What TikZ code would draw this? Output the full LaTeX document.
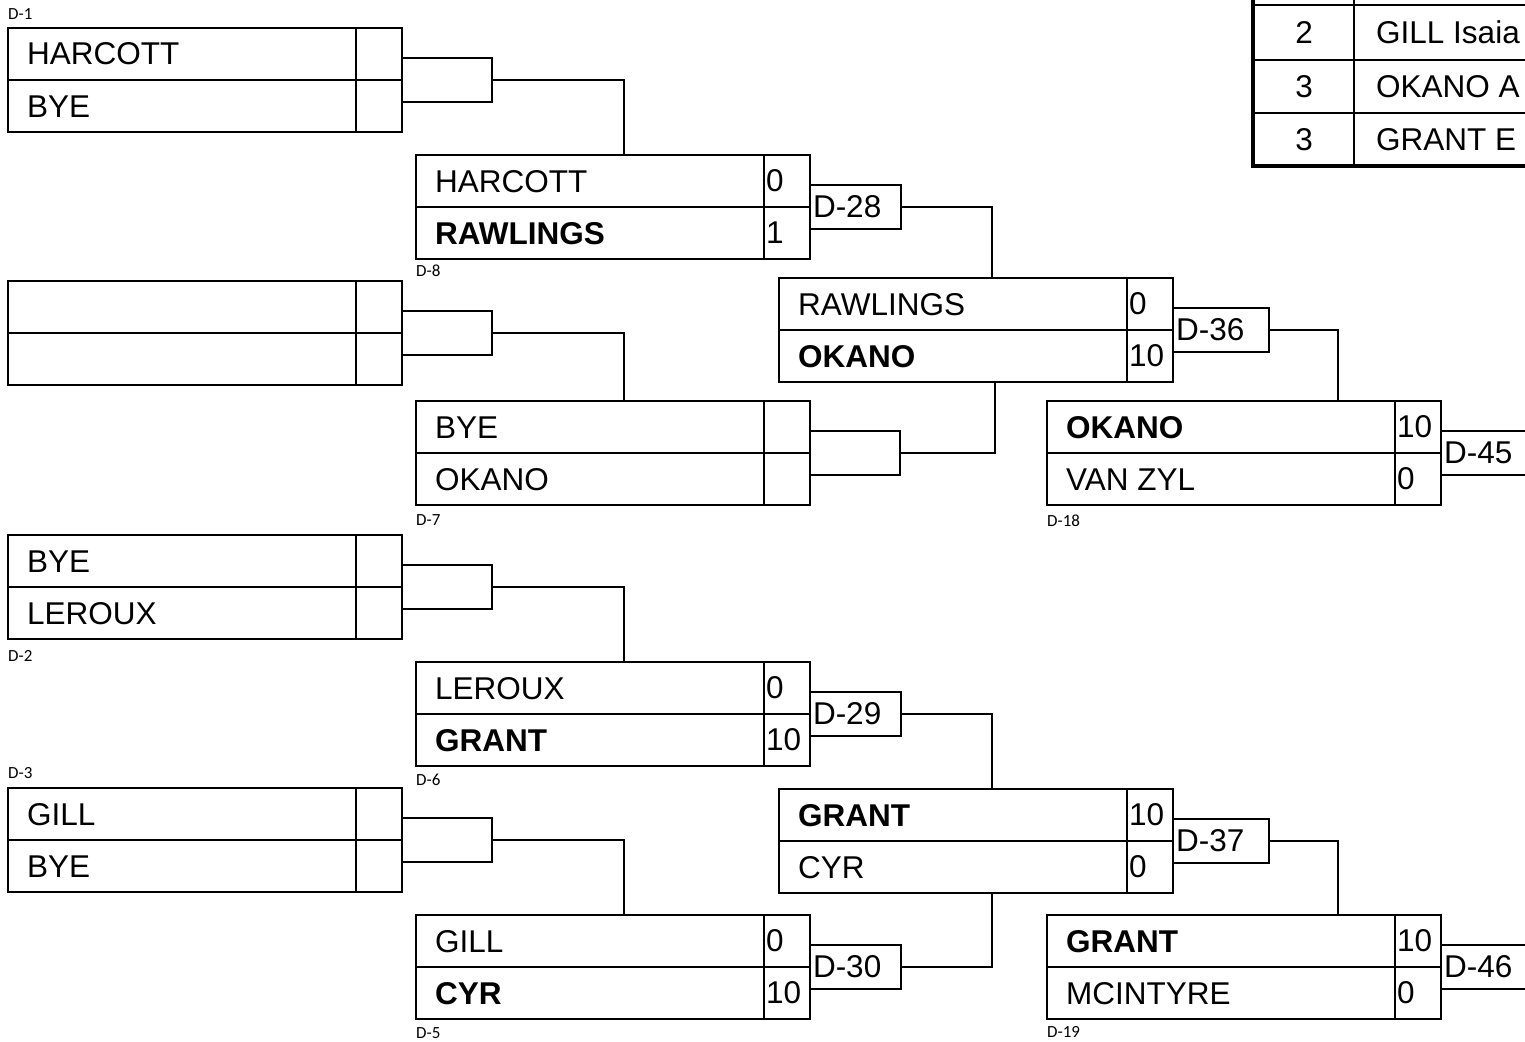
\documentclass[tikz,border=0pt]{standalone}
\usepackage{fontspec}
\setmainfont{Liberation Sans}
\newfontfamily\labfont{Carlito}
\newcommand\bknamefont{\fontsize{31.5}{38}\selectfont}
\newcommand\tmatch[3]{%
  \node[matchbox] (#1) at (#2,#3) {};
  \draw[conn] (#1.west) -- (#1.east);
  \draw[conn] ([xshift=-46pt]#1.north east) -- ([xshift=-46pt]#1.south east);}
\newcommand\tnames[3]{%
  \node[nametext] (#1-a) at ([shift={(19,37)}]#1.north west) {#2};
  \node[nametext] (#1-b) at ([shift={(19,89)}]#1.north west) {#3};}
\newcommand\tscores[3]{%
  \node[nametext] (#1-c) at ([shift={(-44,36)}]#1.north east) {#2};
  \node[nametext] (#1-d) at ([shift={(-44,88)}]#1.north east) {#3};}
\begin{document}
\begin{tikzpicture}[x=1pt,y=-1pt,
  matchbox/.style={draw, line width=2pt, minimum width=394pt, minimum height=104pt, inner sep=0pt, outer sep=0pt, anchor=north west},
  bracketbox/.style={draw, line width=2pt, minimum width=90pt, minimum height=44pt, inner sep=0pt, outer sep=0pt, anchor=west},
  labbox/.style={draw, line width=2pt, minimum height=44pt, text width=#1, align=left, inner xsep=3pt, inner ysep=0pt, outer sep=0pt, anchor=west, font=\bknamefont},
  nametext/.style={anchor=base west, inner sep=0pt, font=\bknamefont},
  celltext/.style={anchor=base, inner sep=0pt, font=\bknamefont},
  smalllab/.style={anchor=base west, inner sep=0pt, font=\labfont\fontsize{17}{20}\selectfont},
  conn/.style={line width=2pt, line join=miter}]
\useasboundingbox (0,0) rectangle (1525,1041);
\fill[white] (0,0) rectangle (1525,1041);
\clip (0,0) rectangle (1525,1041);

% ---------- round 1 ----------
\tmatch{m1}{8}{28}
\tnames{m1}{HARCOTT}{BYE}
\tmatch{m2}{8}{281}
\tmatch{m3}{8}{535}
\tnames{m3}{BYE}{LEROUX}
\tmatch{m4}{8}{788}
\tnames{m4}{GILL}{BYE}

% ---------- round 2 ----------
\tmatch{m8}{416}{155}
\tnames{m8}{HARCOTT}{\textbf{RAWLINGS}}
\tscores{m8}{0}{1}
\tmatch{m7}{416}{401}
\tnames{m7}{BYE}{OKANO}
\tmatch{m6}{416}{662}
\tnames{m6}{LEROUX}{\textbf{GRANT}}
\tscores{m6}{0}{10}
\tmatch{m5}{416}{915}
\tnames{m5}{GILL}{\textbf{CYR}}
\tscores{m5}{0}{10}

% ---------- round 3 ----------
\tmatch{r1}{779}{278}
\tnames{r1}{RAWLINGS}{\textbf{OKANO}}
\tscores{r1}{0}{10}
\tmatch{r2}{779}{789}
\tnames{r2}{\textbf{GRANT}}{CYR}
\tscores{r2}{10}{0}

% ---------- round 4 ----------
\tmatch{m18}{1047}{401}
\tnames{m18}{\textbf{OKANO}}{VAN ZYL}
\tscores{m18}{10}{0}
\tmatch{m19}{1047}{915}
\tnames{m19}{\textbf{GRANT}}{MCINTYRE}
\tscores{m19}{10}{0}

% ---------- small labels ----------
\node[smalllab] (l1) at (8,20) {D-1};
\node[smalllab] (l8) at (416,276) {D-8};
\node[smalllab] (l7) at (416,525) {D-7};
\node[smalllab] (l18) at (1047,526) {D-18};
\node[smalllab] (l2) at (8,661) {D-2};
\node[smalllab] (l3) at (8,778) {D-3};
\node[smalllab] (l6) at (416,785) {D-6};
\node[smalllab] (l5) at (416,1038) {D-5};
\node[smalllab] (l19) at (1047,1037) {D-19};

% ---------- brackets ----------
\node[bracketbox] (b1) at (m1.east) {};
\node[bracketbox] (b2) at (m2.east) {};
\node[bracketbox] (b3) at (m3.east) {};
\node[bracketbox] (b4) at (m4.east) {};
\node[bracketbox] (b7) at (m7.east) {};

\node[labbox=85pt] (d28) at (m8.east) {D-28};
\node[labbox=85pt] (d29) at (m6.east) {D-29};
\node[labbox=85pt] (d30) at (m5.east) {D-30};
\node[labbox=90pt] (d36) at (r1.east) {D-36};
\node[labbox=90pt] (d37) at (r2.east) {D-37};
\node[labbox=90pt] (d45) at (m18.east) {D-45};
\node[labbox=90pt] (d46) at (m19.east) {D-46};

% ---------- connectors ----------
\coordinate (xa) at (624,0);
\coordinate (xb) at (992,0);
\coordinate (xc) at (995,0);
\coordinate (xd) at (1338,0);
\draw[conn] (b1.east) -| (xa |- m8.north);
\draw[conn] (b2.east) -| (xa |- m7.north);
\draw[conn] (b3.east) -| (xa |- m6.north);
\draw[conn] (b4.east) -| (xa |- m5.north);
\draw[conn] (d28.east) -| (xb |- r1.north);
\draw[conn] (b7.east) -| (xc |- r1.south);
\draw[conn] (d29.east) -| (xb |- r2.north);
\draw[conn] (d30.east) -| (xb |- r2.south);
\draw[conn] (d36.east) -| (xd |- m18.north);
\draw[conn] (d37.east) -| (xd |- m19.north);

% ---------- standings table ----------
\draw[conn] (1354,0) -- (1354,166);
\draw[conn] (1253,5) -- (1530,5);
\draw[conn] (1253,60) -- (1530,60);
\draw[conn] (1253,113) -- (1530,113);
\draw[line width=4pt] (1253,-5) -- (1253,166) -- (1530,166);
\node[celltext] (t1) at (1304,44) {2};
\node[celltext] (t2) at (1304,97) {3};
\node[celltext] (t3) at (1304,150) {3};
\node[nametext] (t4) at (1376,44) {GILL Isaia};
\node[nametext] (t5) at (1376,97) {OKANO A};
\node[nametext] (t6) at (1376,150) {GRANT E};
\end{tikzpicture}
\end{document}
